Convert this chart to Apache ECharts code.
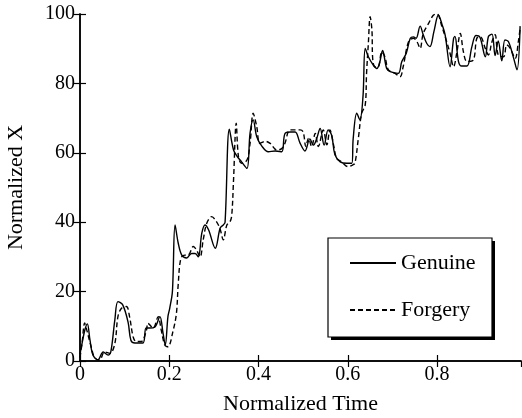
<!DOCTYPE html>
<html>
<head>
<meta charset="utf-8">
<script src="https://cdn.jsdelivr.net/npm/echarts@6/dist/echarts.min.js"></script>
<style>html,body{margin:0;padding:0;background:#fff;}#c{width:522px;height:418px;}</style>
</head>
<body>
<div id="c"></div>
<script>
var genuineT = [0,0.0045,0.011,0.0164,0.0224,0.029,0.040,0.052,0.063,0.069,0.078,0.085,0.096,0.108,0.114,0.123,0.141,0.148,0.156,0.168,0.179,0.186,0.191,0.197,0.201,0.207,0.213,0.220,0.228,0.239,0.250,0.258,0.265,0.273,0.280,0.288,0.303,0.314,0.321,0.325,0.3346,0.344,0.352,0.362,0.374,0.381,0.388,0.396,0.407,0.422,0.437,0.452,0.459,0.471,0.482,0.493,0.504,0.515,0.523,0.530,0.538,0.547,0.556,0.564,0.571,0.583,0.598,0.609,0.612,0.620,0.627,0.634,0.639,0.646,0.657,0.665,0.671,0.678,0.687,0.695,0.713,0.721,0.731,0.740,0.747,0.753,0.762,0.769,0.777,0.784,0.793,0.803,0.811,0.818,0.829,0.837,0.840,0.848,0.855,0.867,0.878,0.887,0.896,0.908,0.915,0.923,0.930,0.937,0.945,0.952,0.960,0.971,0.979,0.986];
var genuineX = [2,5,9,10.7,6,1.7,0.3,2.6,1.7,2.6,11.8,17.1,16.1,11,6,5.2,5.2,9.5,9.5,9.8,12.8,8,4.6,12.8,15.2,20,39.2,34,30.5,29.7,31,31,30,36.9,39.2,37.8,32.5,38.3,39.2,40,66.8,60.8,59,57.4,55.5,65.7,69.5,64.6,62,60.3,60.5,60.3,65.5,66,66,62.8,60.5,64,62.2,64,67,62.2,66.6,65,59.5,57.4,57,57,64,71.4,69.5,76.2,90.1,87.7,85.3,84.3,85.8,89.5,84.3,83.4,82.9,86.3,88.7,93,93.4,93,96.5,94,91.5,90.6,95,99.7,97,94,84.8,93,93.5,86.3,85,85,90.6,93.8,93.3,87.7,93.5,94.2,88,92.2,86.5,92.5,92,87.5,83.9,96.5];
var forgeryT = [0,0.0045,0.0105,0.013,0.025,0.033,0.044,0.055,0.067,0.078,0.085,0.093,0.104,0.111,0.119,0.126,0.137,0.149,0.152,0.164,0.175,0.182,0.190,0.197,0.208,0.216,0.220,0.226,0.235,0.242,0.254,0.261,0.269,0.276,0.284,0.295,0.306,0.314,0.321,0.329,0.336,0.340,0.344,0.350,0.355,0.362,0.374,0.381,0.388,0.396,0.403,0.415,0.426,0.441,0.452,0.459,0.471,0.493,0.500,0.506,0.512,0.519,0.527,0.534,0.545,0.553,0.560,0.568,0.575,0.586,0.601,0.611,0.616,0.624,0.631,0.639,0.642,0.646,0.650,0.654,0.656,0.661,0.668,0.676,0.683,0.691,0.706,0.717,0.724,0.736,0.747,0.755,0.762,0.769,0.781,0.792,0.800,0.811,0.818,0.829,0.837,0.844,0.852,0.859,0.867,0.881,0.889,0.897,0.908,0.915,0.923,0.930,0.937,0.949,0.956,0.964,0.975,0.982,0.986];
var forgeryX = [1,5,11,10,4.1,0.9,0.3,2.6,2.2,5,12.8,15.2,15.7,12.8,7,5.6,5.6,8.9,10.9,9.5,12.8,8.9,4.6,4.1,8.4,13.7,22,29.6,30.5,30.5,33,32,30,34.9,39.7,41.6,40.1,38,34.9,39.2,40.1,42,52.2,68.5,58.9,57,57.9,62.7,71.4,67.5,62.7,63.3,62.7,60.8,61.2,62.7,66.6,66.6,66,61.8,64.2,61.8,65.6,61.8,66.6,62.3,66.6,62.3,58.4,57.4,56,56.5,57,64.6,71.4,73.8,82.9,91.5,99.2,95.4,86.7,84.8,84.8,89.1,87.7,83.9,82.9,81.9,84.8,92,93,92,90.1,94.4,97.3,99.7,100,96.3,93.5,88.7,84.8,88.7,94.4,89.1,86.3,86.7,93,93.4,90.1,88.2,92,94,88.2,87.7,91.1,90.1,87.2,92,95.8];
var xTicks = [0, 0.2, 0.4, 0.6, 0.8];
var yTicks = [0, 20, 40, 60, 80, 100];

function zip(a, b) { return a.map(function (v, i) { return [v, b[i]]; }); }

var FONT = 'Liberation Serif';
var chart = echarts.init(document.getElementById('c'), null, {renderer: 'canvas'});
var axisCommon = {
  axisLine: {show: true, lineStyle: {color: '#000', width: 1.5}},
  axisTick: {show: true, inside: true, length: 6, lineStyle: {color: '#000', width: 1.2}},
  splitLine: {show: false}
};
chart.setOption({
  backgroundColor: '#fff',
  animation: false,
  grid: {left: 80, right: 1, top: 14, bottom: 57, containLabel: false, outerBoundsMode: 'none'},
  xAxis: [
    Object.assign({
      type: 'value', min: 0, max: 0.988, interval: 0.2, position: 'bottom',
      name: 'Normalized Time', nameLocation: 'middle', nameGap: 32,
      nameTextStyle: {fontFamily: FONT, fontSize: 22, color: '#000'},
      axisLabel: {show: true, margin: 4, showMaxLabel: false, fontFamily: FONT, fontSize: 20, color: '#000',
        formatter: function (v) { return xTicks.indexOf(Math.round(v * 10) / 10) >= 0 ? String(Math.round(v * 10) / 10) : ''; }}
    }, axisCommon),
    Object.assign({
      type: 'value', min: 0, max: 0.988, interval: 0.2, position: 'top', axisLabel: {show: false}
    }, axisCommon)
  ],
  yAxis: [
    Object.assign({
      type: 'value', min: 0, max: 100, interval: 20, position: 'left',
      name: 'Normalized X', nameLocation: 'middle', nameGap: 53,
      nameTextStyle: {fontFamily: FONT, fontSize: 22, color: '#000'},
      axisLabel: {show: true, margin: 5, fontFamily: FONT, fontSize: 20, color: '#000',
        formatter: function (v) { return yTicks.indexOf(v) >= 0 ? String(v) : ''; }}
    }, axisCommon),
    Object.assign({
      type: 'value', min: 0, max: 100, interval: 20, position: 'right', axisLabel: {show: false}
    }, axisCommon)
  ],
  legend: {
    orient: 'vertical', left: 349, top: 251, padding: 0, itemGap: 23,
    itemWidth: 46, itemHeight: 14, z: 10,
    itemStyle: {opacity: 0},
    textStyle: {fontFamily: FONT, fontSize: 22, color: '#000', lineHeight: 24},
    data: ['Genuine', 'Forgery']
  },
  graphic: [
    {type: 'rect', z: 8, shape: {x: 331, y: 241, width: 164, height: 99}, style: {fill: '#000'}},
    {type: 'rect', z: 9, shape: {x: 328, y: 238, width: 164, height: 99}, style: {fill: '#fff', stroke: '#000', lineWidth: 1.2}}
  ],
  series: [
    {name: 'Genuine', type: 'line', xAxisIndex: 0, yAxisIndex: 0, data: zip(genuineT, genuineX),
      symbol: 'none', smooth: 0.35, lineStyle: {color: '#000', width: 1.4, type: 'solid'}, itemStyle: {color: '#000'}},
    {name: 'Forgery', type: 'line', xAxisIndex: 0, yAxisIndex: 0, data: zip(forgeryT, forgeryX),
      symbol: 'none', smooth: 0.35, lineStyle: {color: '#000', width: 1.4, type: [5, 3]}, itemStyle: {color: '#000'}}
  ]
});
</script>
</body>
</html>
